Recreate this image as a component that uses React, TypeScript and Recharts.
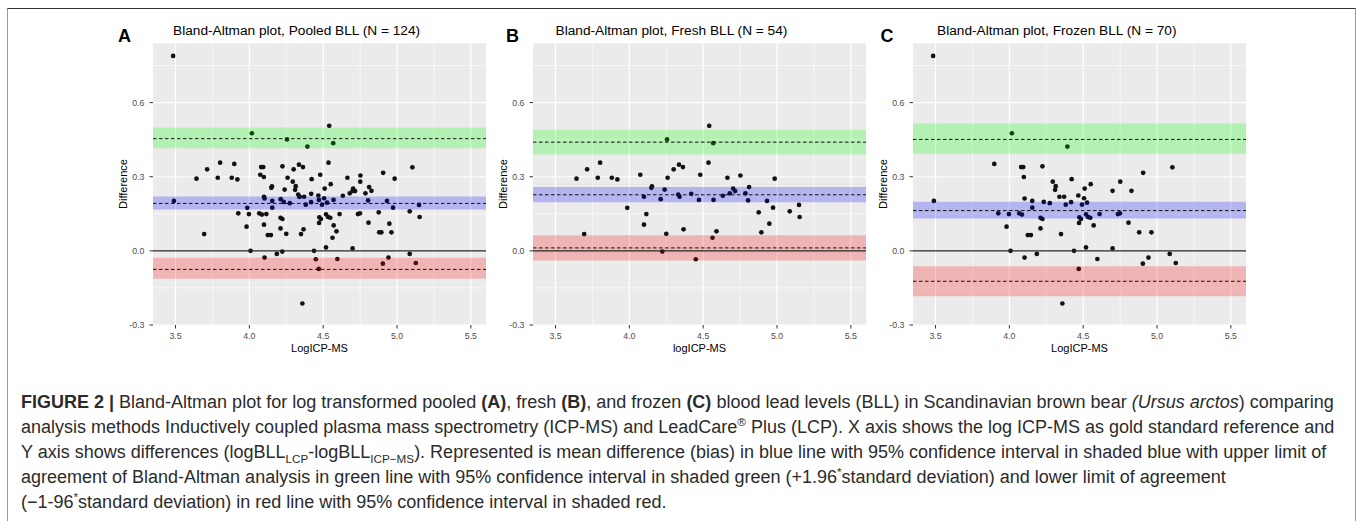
import React from "react";
import {
  ScatterChart,
  Scatter,
  XAxis,
  YAxis,
  CartesianGrid,
  ReferenceArea,
  ReferenceLine,
} from "recharts";

// ---------- DATA ----------
const freshX = [
  3.642, 3.694, 3.714, 3.786, 3.802, 3.881, 3.919, 3.986, 4.074, 4.099, 4.099, 4.115,
  4.149, 4.153, 4.212, 4.223, 4.239, 4.25, 4.255, 4.259, 4.3, 4.331, 4.34, 4.336,
  4.363, 4.367, 4.419, 4.45, 4.471, 4.48, 4.536, 4.541, 4.563, 4.568, 4.57, 4.59,
  4.633, 4.664, 4.68, 4.703, 4.716, 4.752, 4.786, 4.804, 4.811, 4.876, 4.894, 4.932,
  4.948, 4.973, 4.984, 5.086, 5.149, 5.153,
];
const freshY = [
  0.292, 0.068, 0.33, 0.296, 0.357, 0.296, 0.289, 0.174, 0.308, 0.219, 0.106, 0.149,
  0.255, 0.261, 0.209, -0.003, 0.248, 0.069, 0.451, 0.296, 0.33, 0.228, 0.219, 0.349,
  0.339, 0.087, 0.231, -0.034, 0.206, 0.308, 0.357, 0.506, 0.053, 0.436, 0.206, 0.079,
  0.223, 0.296, 0.233, 0.252, 0.242, 0.305, 0.233, 0.204, 0.258, 0.156, 0.075, 0.202,
  0.11, 0.175, 0.292, 0.16, 0.186, 0.137,
];
const frozenX = [
  3.484, 3.489, 3.898, 3.925, 3.981, 3.997, 4.008, 4.017, 4.067, 4.08, 4.085, 4.094,
  4.098, 4.103, 4.103, 4.125, 4.146, 4.155, 4.155, 4.186, 4.211, 4.211, 4.224, 4.224,
  4.233, 4.274, 4.294, 4.31, 4.314, 4.339, 4.35, 4.359, 4.371, 4.382, 4.393, 4.418,
  4.422, 4.438, 4.467, 4.47, 4.472, 4.474, 4.485, 4.492, 4.506, 4.51, 4.519, 4.519,
  4.526, 4.533, 4.548, 4.551, 4.571, 4.596, 4.611, 4.699, 4.699, 4.735, 4.749, 4.751,
  4.807, 4.827, 4.879, 4.904, 4.906, 4.942, 4.962, 5.086, 5.104, 5.127,
];
const frozenY = [
  0.789, 0.202, 0.352, 0.152, 0.098, 0.149, 0.0, 0.476, 0.152, 0.339, 0.147, 0.339,
  0.299, 0.212, -0.027, 0.064, 0.064, 0.202, 0.175, -0.012, 0.091, 0.134, 0.129, 0.342,
  0.198, 0.193, 0.28, 0.247, 0.262, 0.219, 0.068, -0.213, 0.219, 0.187, 0.422, 0.197,
  0.29, 0.0, 0.224, -0.073, 0.113, 0.136, 0.129, 0.187, 0.213, 0.252, 0.148, 0.014,
  0.195, 0.137, 0.134, 0.27, 0.103, -0.033, 0.149, 0.243, 0.01, 0.149, 0.152, 0.28,
  0.114, 0.243, 0.075, -0.052, 0.316, -0.027, 0.075, -0.012, 0.338, -0.049,
];

// panels: A pooled, B fresh, C frozen
const panelLetters = ["A", "B", "C"];
const panelTitles = [
  "Bland-Altman plot, Pooled BLL (N = 124)",
  "Bland-Altman plot, Fresh BLL (N = 54)",
  "Bland-Altman plot, Frozen BLL (N = 70)",
];
const xAxisTitles = ["LogICP-MS", "logICP-MS", "LogICP-MS"];
const yAxisTitle = "Difference";

const upperLow = [0.415, 0.39, 0.393];
const upperHigh = [0.499, 0.49, 0.515];
const upperMean = [0.454, 0.44, 0.451];
const biasLow = [0.167, 0.197, 0.131];
const biasHigh = [0.22, 0.258, 0.199];
const biasMean = [0.192, 0.227, 0.163];
const lowerLow = [-0.113, -0.039, -0.184];
const lowerHigh = [-0.028, 0.063, -0.062];
const lowerMean = [-0.075, 0.012, -0.123];

const xTicks = [3.5, 4.0, 4.5, 5.0, 5.5];
const xMinor = [3.75, 4.25, 4.75, 5.25];
const yTicks = [-0.3, 0.0, 0.3, 0.6];
const yMinor = [-0.15, 0.15, 0.45, 0.75];
const xDomain = [3.3475, 5.6025];
const yDomain = [-0.3, 0.84];

const toPts = (xs: number[], ys: number[]) => xs.map((x, i) => ({ x, y: ys[i] }));
const freshPts = toPts(freshX, freshY);
const frozenPts = toPts(frozenX, frozenY);
const pooledPts = [...freshPts, ...frozenPts];
const panelData = [pooledPts, freshPts, frozenPts];

// ---------- LAYOUT ----------
const plotLefts = [153, 533, 913];
const titleLefts = [173, 555.5, 937];
const letterLefts = [118, 506, 880.5];
const PLOT_W = 333;
const PLOT_TOP = 43.3;
const PLOT_H = 281.7;
const Y_AXIS_W = 53;
const CHART_TOP = 20;

const FONT = "'Liberation Sans', Arial, Helvetica, sans-serif";

const Dot = (props: any) => {
  const { cx, cy } = props;
  if (cx == null || cy == null) return null;
  return <circle cx={cx} cy={cy} r={2.35} fill="#111" />;
};

function Panel({ i }: { i: number }) {
  const plotLeft = plotLefts[i];
  const chartLeft = plotLeft - Y_AXIS_W;
  const marginTop = PLOT_TOP - CHART_TOP;
  const width = Y_AXIS_W + PLOT_W + 10;
  const xAxisH = 30;
  const height = marginTop + PLOT_H + xAxisH + 5;
  const tickStyle = { fontSize: 8.8, fill: "#4d4d4d", fontFamily: FONT };
  return (
    <>
      <div
        style={{
          position: "absolute",
          left: chartLeft,
          top: CHART_TOP,
          width,
          height,
        }}
      >
        <ScatterChart
          width={width}
          height={height}
          margin={{ top: marginTop, right: 10, bottom: 5, left: 0 }}
        >
          <CartesianGrid
            fill="#ebebeb"
            stroke="#ffffff"
            strokeWidth={0.6}
            horizontalValues={yMinor}
            verticalValues={xMinor}
          />
          <CartesianGrid
            stroke="#ffffff"
            strokeWidth={1.2}
            horizontalValues={yTicks}
            verticalValues={xTicks}
          />
          <XAxis
            type="number"
            dataKey="x"
            domain={xDomain}
            ticks={xTicks}
            allowDataOverflow
            height={xAxisH}
            axisLine={false}
            tickLine={{ stroke: "#333", strokeWidth: 1 }}
            tickSize={3.5}
            tickMargin={4.5}
            tick={tickStyle}
            tickFormatter={(v: number) => v.toFixed(1)}
            interval={0}
          />
          <YAxis
            type="number"
            dataKey="y"
            domain={yDomain}
            ticks={yTicks}
            allowDataOverflow
            width={Y_AXIS_W}
            axisLine={false}
            tickLine={{ stroke: "#333", strokeWidth: 1 }}
            tickSize={3.5}
            tickMargin={5}
            tick={tickStyle}
            tickFormatter={(v: number) => v.toFixed(1)}
            interval={0}
          />
          <Scatter data={panelData[i]} shape={Dot} isAnimationActive={false} />
          <ReferenceArea
            y1={upperLow[i]}
            y2={upperHigh[i]}
            x1={xDomain[0]}
            x2={xDomain[1]}
            fill="#00ff00"
            fillOpacity={0.23}
            stroke="none"
            ifOverflow="hidden"
            zIndex={700}
          />
          <ReferenceArea
            y1={biasLow[i]}
            y2={biasHigh[i]}
            x1={xDomain[0]}
            x2={xDomain[1]}
            fill="#0000ff"
            fillOpacity={0.23}
            stroke="none"
            ifOverflow="hidden"
            zIndex={700}
          />
          <ReferenceArea
            y1={lowerLow[i]}
            y2={lowerHigh[i]}
            x1={xDomain[0]}
            x2={xDomain[1]}
            fill="#ff0000"
            fillOpacity={0.23}
            stroke="none"
            ifOverflow="hidden"
            zIndex={700}
          />
          <ReferenceLine y={0} stroke="#222" strokeWidth={1.1} zIndex={800} />
          <ReferenceLine y={upperMean[i]} stroke="#111" strokeWidth={1} strokeDasharray="3.5 2.5" zIndex={800} />
          <ReferenceLine y={biasMean[i]} stroke="#111" strokeWidth={1} strokeDasharray="3.5 2.5" zIndex={800} />
          <ReferenceLine y={lowerMean[i]} stroke="#111" strokeWidth={1} strokeDasharray="3.5 2.5" zIndex={800} />
        </ScatterChart>
      </div>
      <div
        style={{
          position: "absolute",
          left: letterLefts[i],
          top: 26,
          fontFamily: FONT,
          fontWeight: "bold",
          fontSize: 18,
          lineHeight: "20px",
          color: "#000",
        }}
      >
        {panelLetters[i]}
      </div>
      <div
        style={{
          position: "absolute",
          left: titleLefts[i],
          top: 23,
          fontFamily: FONT,
          fontSize: 13.7,
          lineHeight: "16px",
          color: "#000",
          whiteSpace: "nowrap",
        }}
      >
        {panelTitles[i]}
      </div>
      <div
        style={{
          position: "absolute",
          left: plotLeft + PLOT_W / 2,
          top: 348,
          transform: "translate(-50%, -50%)",
          fontFamily: FONT,
          fontSize: 11,
          lineHeight: "13px",
          color: "#000",
          whiteSpace: "nowrap",
        }}
      >
        {xAxisTitles[i]}
      </div>
      <div
        style={{
          position: "absolute",
          left: plotLeft - 30,
          top: PLOT_TOP + PLOT_H / 2,
          transform: "translate(-50%, -50%) rotate(-90deg)",
          fontFamily: FONT,
          fontSize: 11,
          lineHeight: "13px",
          color: "#000",
          whiteSpace: "nowrap",
        }}
      >
        {yAxisTitle}
      </div>
    </>
  );
}

const captionLine: React.CSSProperties = {
  position: "absolute",
  left: 21,
  fontFamily: FONT,
  fontSize: 18,
  lineHeight: "20px",
  color: "#2b2b2b",
  whiteSpace: "nowrap",
};
const supStyle: React.CSSProperties = { fontSize: "0.65em", lineHeight: 0 };

export default function App() {
  return (
    <div
      style={{
        position: "absolute",
        left: 0,
        top: 0,
        width: 1358,
        height: 521,
        background: "#fff",
        overflow: "hidden",
      }}
    >
      <div
        style={{
          position: "absolute",
          left: 7,
          top: 8,
          width: 1347,
          height: 530,
          borderTop: "1.5px solid #333",
          borderLeft: "1px solid #999",
          borderRight: "1px solid #999",
        }}
      />
      {[0, 1, 2].map((i) => (
        <Panel key={i} i={i} />
      ))}
      <div style={{ ...captionLine, top: 392 }}>
        <b>FIGURE 2 |</b> Bland-Altman plot for log transformed pooled <b>(A)</b>, fresh <b>(B)</b>, and
        frozen <b>(C)</b> blood lead levels (BLL) in Scandinavian brown bear <i>(Ursus arctos</i>) comparing
      </div>
      <div style={{ ...captionLine, top: 417 }}>
        analysis methods Inductively coupled plasma mass spectrometry (ICP-MS) and LeadCare
        <sup style={supStyle}>®</sup> Plus (LCP). X axis shows the log ICP-MS as gold
        standard reference and
      </div>
      <div style={{ ...captionLine, top: 442 }}>
        Y axis shows differences (logBLL<sub style={supStyle}>LCP</sub>-logBLL
        <sub style={supStyle}>ICP−MS</sub>). Represented is mean difference (bias) in
        blue line with 95% confidence interval in shaded blue with upper limit of
      </div>
      <div style={{ ...captionLine, top: 467 }}>
        agreement of Bland-Altman analysis in green line with 95% confidence interval in shaded green (+1.96
        <sup style={supStyle}>*</sup>standard deviation) and lower limit of agreement
      </div>
      <div style={{ ...captionLine, top: 492 }}>
        (−1-96<sup style={supStyle}>*</sup>standard deviation) in red line with 95%
        confidence interval in shaded red.
      </div>
    </div>
  );
}
